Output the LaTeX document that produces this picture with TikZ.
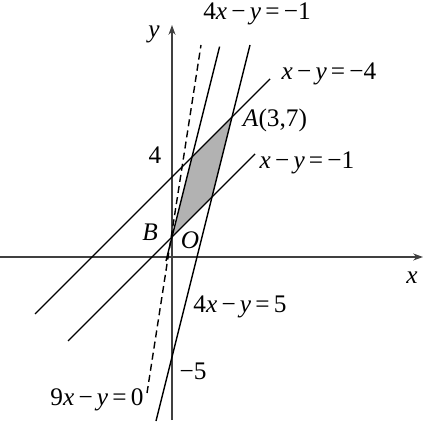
\documentclass[tikz,border=0pt]{standalone}
\usepackage{fontspec}
\setmainfont{Liberation Serif}
\usetikzlibrary{arrows.meta}
\begin{document}
\begin{tikzpicture}[x=0.5cm,y=0.5cm,
  lbl/.style={font=\fontsize{18}{20}\selectfont, inner sep=0pt},
  ln/.style={line width=1pt, black},
  dashln/.style={line width=1pt, black, dash pattern=on 5pt off 3pt},
  axisln/.style={line width=1pt, black!75, -{Stealth[length=7pt,width=5pt]}},
  region/.style={fill=black!30}]
\useasboundingbox (-8.6,-8.3) rectangle (12.95,12.85);
% feasible region vertices
\coordinate (B) at (0,1);
\coordinate (P) at (1,5);
\coordinate (A) at (3,7);
\coordinate (Q) at (2,3);
\fill[region] (B) -- (P) -- (A) -- (Q) -- cycle;
% axes
\coordinate (xs) at (-8.6,0);
\coordinate (xe) at (12.55,0);
\coordinate (ys) at (0,-8.15);
\coordinate (ye) at (0,11.6);
\draw[axisln] (xs) -- (xe);
\draw[axisln] (ys) -- (ye);
% lines
\coordinate (l1a) at (-6.85,-2.85);
\coordinate (l1b) at (4.9,8.9);
\coordinate (l2a) at (-5.2,-4.2);
\coordinate (l2b) at (4.15,5.15);
\coordinate (l3a) at (-0.8,-8.2);
\coordinate (l3b) at (3.9,10.6);
\coordinate (l4a) at (-0.3,-0.2);
\coordinate (l4b) at (2.38,10.52);
\coordinate (l5a) at (-1.25,-6.8);
\coordinate (l5b) at (1.45,10.6);
\draw[ln] (l1a) -- (l1b);
\draw[ln] (l2a) -- (l2b);
\draw[ln] (l3a) -- (l3b);
\draw[ln] (l4a) -- (l4b);
\draw[dashln] (l5a) -- (l5b);
% labels
\node[lbl] (ylab) at (-0.9,11.15) {\textit{y}};
\node[lbl] (xlab) at (12.0,-1.05) {\textit{x}};
\node[lbl] (t1) at (4.25,12.15) {4\textit{x}\,−\,\textit{y}\,=\,−1};
\node[lbl] (t2) at (7.85,9.15) {\textit{x}\,−\,\textit{y}\,=\,−4};
\node[lbl] (t3) at (5.15,6.85) {\textit{A}(3,7)};
\node[lbl] (t4) at (6.75,4.7) {\textit{x}\,−\,\textit{y}\,=\,−1};
\node[lbl] (four) at (-0.85,5.1) {4};
\node[lbl] (blab) at (-1.1,1.25) {\textit{B}};
\node[lbl] (olab) at (0.9,0.85) {\textit{O}};
\node[lbl] (t5) at (3.4,-2.5) {4\textit{x}\,−\,\textit{y}\,=\,5};
\node[lbl] (m5) at (1.05,-5.7) {−5};
\node[lbl] (t6) at (-3.75,-7.15) {9\textit{x}\,−\,\textit{y}\,=\,0};
\end{tikzpicture}
\end{document}
